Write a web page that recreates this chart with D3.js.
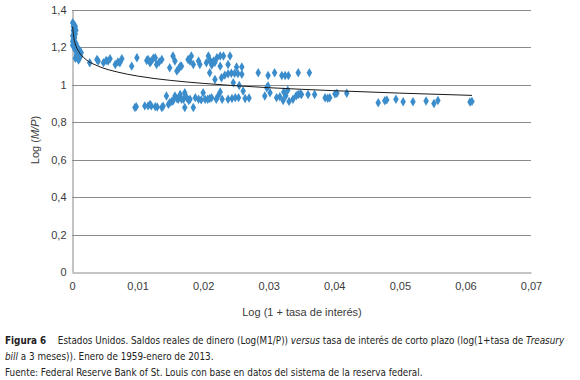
<!DOCTYPE html>
<html><head><meta charset="utf-8">
<script src="https://cdn.jsdelivr.net/npm/d3@7"></script>
<style>
html,body{margin:0;padding:0;background:#fff;}
svg{display:block;}
</style>
</head><body>
<svg id="chart" width="580" height="380"></svg>
<script>
// ---- data ----
const rateX = [
 0.0001,0.0003,0.0002,0.0005,0.0004,0.0002,0.0006,0.0003,0.0005,0.0001,0.0004,0.0002,0.0001,0.0003,0.0006,0.0002,0.0008,0.0004,0.0010,0.0006,0.0012,0.0009,0.0014,0.0011,0.0007,0.0013,0.0005,0.0010,0.0003,0.0001,
 0.0027,0.0038,0.0040,0.0048,0.0052,0.0055,0.0058,0.0066,0.0070,0.0073,0.0076,0.0091,0.0099,0.0114,0.0116,0.0119,0.0121,0.0124,0.0127,0.0129,0.0133,0.0137,0.0149,0.0154,0.0157,0.0160,0.0163,0.0165,0.0167,0.0177,0.0180,0.0182,0.0185,0.0193,0.0195,0.0205,0.0208,0.0210,0.0212,0.0214,0.0216,0.0213,0.0218,0.0221,0.0226,0.0226,0.0231,0.0238,0.0241,0.0251,0.0259,
 0.0210,0.0218,0.0228,0.0233,0.0238,0.0243,0.0248,0.0253,0.0259,0.0246,0.0255,0.0284,0.0299,0.0309,0.0320,0.0325,0.0330,0.0345,0.0362,
 0.0096,0.0098,0.0111,0.0116,0.0119,0.0121,0.0127,0.0130,0.0137,0.0139,0.0144,0.0147,0.0149,0.0152,0.0154,0.0157,0.0160,0.0162,0.0165,0.0167,0.0170,0.0172,0.0172,0.0175,0.0178,0.0180,0.0185,0.0188,0.0193,0.0197,0.0200,0.0203,0.0207,0.0210,0.0213,0.0220,0.0223,0.0226,0.0229,0.0238,0.0244,0.0249,0.0254,0.0261,0.0264,0.0270,0.0294,0.0297,0.0299,0.0302,0.0312,0.0317,0.0322,0.0323,0.0326,0.0329,0.0331,0.0337,0.0342,0.0345,0.0348,0.0350,0.0360,0.0370,0.0386,0.0390,0.0393,0.0401,0.0404,0.0419,0.0467,0.0477,0.0480,0.0494,0.0505,0.0520,0.0540,0.0552,0.0558,0.0607,0.0610
];
const logMP = [
 1.33,1.32,1.31,1.31,1.30,1.29,1.29,1.28,1.27,1.26,1.25,1.24,1.23,1.22,1.22,1.21,1.20,1.19,1.19,1.18,1.18,1.17,1.17,1.16,1.16,1.15,1.14,1.13,1.20,1.21,
 1.116,1.133,1.125,1.116,1.128,1.125,1.137,1.107,1.120,1.116,1.137,1.098,1.143,1.128,1.133,1.116,1.125,1.140,1.143,1.107,1.120,1.133,1.089,1.152,1.125,1.072,1.085,1.098,1.098,1.133,1.125,1.152,1.107,1.125,1.107,1.116,1.152,1.130,1.120,1.112,1.125,1.104,1.118,1.143,1.152,1.098,1.152,1.107,1.152,1.094,1.094,
 1.063,1.027,1.036,1.050,1.057,1.060,1.060,1.058,1.055,1.009,0.995,1.063,1.048,1.063,1.048,1.048,1.048,1.063,1.063,
 0.877,0.882,0.886,0.886,0.894,0.886,0.882,0.880,0.877,0.884,0.939,0.894,0.903,0.910,0.912,0.939,0.925,0.921,0.947,0.921,0.921,0.956,0.877,0.930,0.915,0.921,0.877,0.930,0.921,0.918,0.956,0.921,0.921,0.925,0.930,0.921,0.940,0.960,0.921,0.921,0.925,0.930,0.930,0.965,0.925,0.928,0.939,0.983,0.992,0.956,0.930,0.935,0.915,0.960,0.940,0.970,0.910,0.921,0.940,0.947,0.950,0.947,0.947,0.947,0.929,0.927,0.929,0.950,0.953,0.953,0.903,0.913,0.918,0.921,0.908,0.908,0.912,0.899,0.915,0.907,0.910
];
// logarithmic trend line
const trendX = [0.0001,0.0003,0.0005,0.001,0.002,0.004,0.007,0.010,0.015,0.020,0.030,0.040,0.050,0.061];
const trendY = [1.308,1.245,1.216,1.177,1.137,1.098,1.066,1.045,1.022,1.006,0.983,0.967,0.954,0.942];

const xTicks = [0,0.01,0.02,0.03,0.04,0.05,0.06,0.07];
const yTicks = [0,0.2,0.4,0.6,0.8,1,1.2,1.4];
const fmt = v => String(v).replace('.', ',');

// ---- drawing ----
const svg = d3.select('#chart');
const x = d3.scaleLinear().domain([0,0.07]).range([72,531]);
const y = d3.scaleLinear().domain([0,1.4]).range([272,9.5]);
const gridCol = '#8a8a8a';
const txtCol = '#3a3a3a';
const font = '"Liberation Sans", Arial, sans-serif';

// horizontal gridlines
svg.append('g').selectAll('line').data(yTicks.filter(d=>d>0)).join('line')
  .attr('x1', x(0)).attr('x2', x(0.07))
  .attr('y1', d=>Math.round(y(d))+0.5).attr('y2', d=>Math.round(y(d))+0.5)
  .attr('stroke', gridCol).attr('stroke-width',1);

// y axis
const yAxis = svg.append('g').attr('transform', `translate(${Math.round(x(0))+0.5},0)`)
  .call(d3.axisLeft(y).tickValues(yTicks).tickFormat(fmt).tickSize(0).tickPadding(6));
yAxis.select('.domain').attr('stroke', gridCol);
yAxis.selectAll('text').attr('font-family', font).attr('font-size', 11).attr('fill', txtCol);

// x axis
const xAxis = svg.append('g').attr('transform', `translate(0,${Math.round(y(0))+0.5})`)
  .call(d3.axisBottom(x).tickValues(xTicks).tickFormat(fmt).tickSize(0).tickPadding(10));
xAxis.select('.domain').attr('stroke', gridCol);
xAxis.selectAll('text').attr('font-family', font).attr('font-size', 11).attr('fill', txtCol);

// points (diamonds)
const pts = rateX.map((v,i)=>({x:v, y:logMP[i]}));
const diamond = d3.symbol().type(d3.symbolDiamond).size(26);
svg.append('g').selectAll('path').data(pts).join('path')
  .attr('d', diamond)
  .attr('transform', d=>`translate(${x(d.x)},${y(d.y)})`)
  .attr('fill', '#3b8ccb');

// trend line
const trend = trendX.map((v,i)=>({x:v, y:trendY[i]}));
svg.append('path').datum(trend)
  .attr('d', d3.line().x(d=>x(d.x)).y(d=>y(d.y)).curve(d3.curveMonotoneX))
  .attr('fill','none').attr('stroke','#1a1a1a').attr('stroke-width',1);

// axis titles
svg.append('text').attr('x', 302).attr('y', 316).attr('text-anchor','middle')
  .attr('font-family', font).attr('font-size', 11).attr('fill', txtCol)
  .text('Log (1 + tasa de interés)');
const yt = svg.append('text').attr('transform','translate(39,140) rotate(-90)').attr('text-anchor','middle')
  .attr('font-family', font).attr('font-size', 11).attr('fill', txtCol);
yt.append('tspan').text('Log (');
yt.append('tspan').attr('font-style','italic').text('M/P');
yt.append('tspan').text(')');

// caption
const capFont = '"Liberation Sans Narrow", "DejaVu Sans Condensed", "Liberation Sans", sans-serif';
const cap1 = svg.append('text').attr('x', 5).attr('y', 344).attr('font-family', capFont).attr('font-size', 11).attr('fill', '#222');
cap1.append('tspan').attr('font-weight','bold').text('Figura 6');
cap1.append('tspan').text('\u2003 Estados Unidos. Saldos reales de dinero (Log(M1/P)) ');
cap1.append('tspan').attr('font-style','italic').text('versus');
cap1.append('tspan').text(' tasa de interés de corto plazo (log(1+tasa de ');
cap1.append('tspan').attr('font-style','italic').text('Treasury');
const cap2 = svg.append('text').attr('x', 5).attr('y', 360).attr('font-family', capFont).attr('font-size', 11).attr('fill', '#222');
cap2.append('tspan').attr('font-style','italic').text('bill');
cap2.append('tspan').text(' a 3 meses)). Enero de 1959-enero de 2013.');
const cap3 = svg.append('text').attr('x', 5).attr('y', 376).attr('font-family', capFont).attr('font-size', 11).attr('fill', '#222')
  .text('Fuente: Federal Reserve Bank of St. Louis con base en datos del sistema de la reserva federal.');

// scale caption font so line 1 spans the same width as in the reference
const w1 = cap1.node().getComputedTextLength();
const fs = Math.max(8, Math.min(12, 11 * 560 / w1));
[cap1,cap2,cap3].forEach(t=>t.attr('font-size', fs));
</script>
</body></html>
